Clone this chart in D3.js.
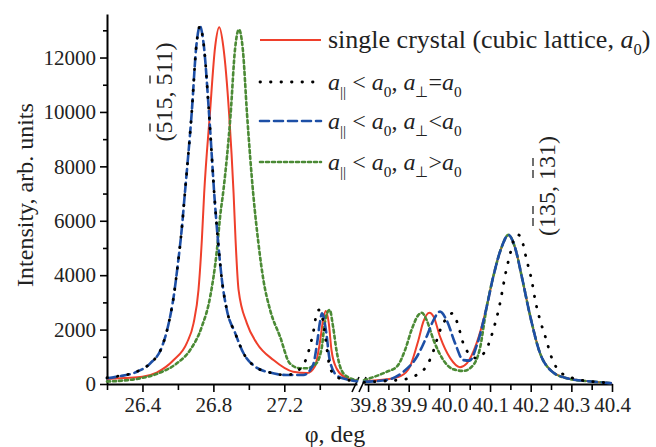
<!DOCTYPE html>
<html>
<head>
<meta charset="utf-8">
<script src="https://cdn.jsdelivr.net/npm/d3@7"></script>
<style>
  body { margin: 0; background: #fff; }
  svg { display: block; font-family: "Liberation Serif", "Times New Roman", serif; }
</style>
</head>
<body>
<div id="chart"></div>
<script>
// phi axis is broken in two pieces
const leftDomain = [26.2, 27.61];
const rightDomain = [39.79, 40.4];
const yMax = 13600;

const yTicks = [0, 2000, 4000, 6000, 8000, 10000, 12000];
const yMinor = [1000, 3000, 5000, 7000, 9000, 11000, 13000];
const xTicksLeft = [26.4, 26.8, 27.2];
const xMinorLeft = [26.2, 26.6, 27.0, 27.4];
const xTicksRight = [39.8, 39.9, 40.0, 40.1, 40.2, 40.3, 40.4];
const xMinorRight = [39.85, 39.95, 40.05, 40.15, 40.25, 40.35];

// [phi, intensity]
const redLeft = [[26.2, 180], [26.3, 220], [26.4, 270], [26.48, 420], [26.576, 880], [26.65, 1500],
  [26.688, 2230], [26.716, 3460], [26.735, 5300], [26.748, 7000], [26.78, 9900], [26.81, 12400],
  [26.833, 13110], [26.856, 12400], [26.889, 9900], [26.914, 7000], [26.925, 5300], [26.942, 3460],
  [26.989, 2230], [27.045, 1500], [27.139, 880], [27.25, 450], [27.33, 400], [27.372, 640],
  [27.4, 1500], [27.419, 2350], [27.434, 2680], [27.451, 2230], [27.466, 1250], [27.494, 580],
  [27.541, 250], [27.588, 150], [27.61, 120]];
const redRight = [[39.79, 110], [39.846, 175], [39.881, 300], [39.903, 640], [39.924, 1620],
  [39.936, 2290], [39.951, 2620], [39.961, 2480], [39.977, 1740], [40.002, 950], [40.026, 620],
  [40.043, 760], [40.067, 1500], [40.092, 2850], [40.108, 3950], [40.129, 5050], [40.145, 5480],
  [40.162, 4990], [40.178, 3950], [40.199, 2480], [40.223, 1130], [40.248, 520], [40.289, 210],
  [40.354, 85], [40.4, 30]];

const blackLeft = [[26.2, 230], [26.256, 280], [26.369, 460], [26.444, 760], [26.51, 1370],
  [26.548, 2230], [26.576, 3210], [26.598, 4320], [26.623, 5790], [26.636, 6770], [26.677, 9900],
  [26.705, 12500], [26.724, 13150], [26.745, 12500], [26.776, 9900], [26.808, 6710], [26.829, 5050],
  [26.848, 3830], [26.876, 2720], [26.923, 1870], [26.97, 1130], [27.035, 640], [27.12, 420],
  [27.212, 330], [27.26, 420], [27.3, 650], [27.325, 950], [27.344, 1370], [27.366, 1990],
  [27.381, 2560], [27.395, 2720], [27.41, 2560], [27.425, 2050], [27.44, 1300], [27.452, 760],
  [27.475, 380], [27.511, 210], [27.56, 140], [27.61, 100]];
const blackRight = [[39.79, 60], [39.85, 120], [39.891, 175], [39.916, 300], [39.94, 580],
  [39.954, 950], [39.981, 2110], [40.008, 2600], [40.02, 2230], [40.034, 1500], [40.051, 1070],
  [40.067, 950], [40.092, 1310], [40.108, 1990], [40.121, 2720], [40.141, 4260], [40.149, 4750],
  [40.162, 5420], [40.17, 5480], [40.178, 5300], [40.19, 4560], [40.203, 3770], [40.211, 3090],
  [40.223, 2350], [40.236, 1740], [40.252, 950], [40.272, 450], [40.305, 210], [40.354, 85],
  [40.4, 40]];

const blueLeft = [[26.2, 210], [26.256, 270], [26.369, 450], [26.444, 760], [26.51, 1370],
  [26.548, 2230], [26.576, 3210], [26.598, 4320], [26.623, 5790], [26.636, 6770], [26.677, 9900],
  [26.705, 12500], [26.724, 13150], [26.745, 12500], [26.776, 9900], [26.808, 6710], [26.829, 5050],
  [26.848, 3830], [26.876, 2720], [26.923, 1870], [26.97, 1130], [27.035, 640], [27.12, 420],
  [27.214, 330], [27.308, 330], [27.362, 700], [27.385, 1500], [27.4, 2230], [27.413, 2600],
  [27.437, 1870], [27.456, 880], [27.494, 330], [27.55, 175], [27.588, 120], [27.61, 100]];
const blueRight = [[39.79, 80], [39.846, 150], [39.887, 450], [39.92, 1000], [39.944, 1740],
  [39.961, 2350], [39.977, 2660], [39.993, 2350], [40.014, 1500], [40.034, 880], [40.05, 860],
  [40.067, 1400], [40.092, 2850], [40.108, 3950], [40.129, 5050], [40.145, 5480], [40.162, 4990],
  [40.178, 3950], [40.199, 2480], [40.223, 1130], [40.248, 520], [40.289, 210], [40.354, 85],
  [40.4, 30]];

const greenLeft = [[26.2, 90], [26.388, 210], [26.5, 420], [26.594, 760], [26.669, 1250],
  [26.735, 2110], [26.782, 3210], [26.82, 4930], [26.838, 6160], [26.857, 7140], [26.897, 9900],
  [26.922, 12300], [26.944, 13030], [26.966, 12300], [26.99, 9900], [27.026, 6900], [27.054, 5180],
  [27.082, 3830], [27.12, 2720], [27.176, 1740], [27.231, 760], [27.287, 580], [27.325, 580],
  [27.372, 700], [27.409, 1250], [27.428, 2230], [27.441, 2600], [27.456, 2720], [27.475, 2110],
  [27.494, 1250], [27.522, 515], [27.56, 246], [27.588, 173], [27.61, 140]];
const greenRight = [[39.79, 140], [39.846, 450], [39.871, 640], [39.891, 1250], [39.907, 1990],
  [39.924, 2540], [39.932, 2620], [39.944, 2350], [39.961, 1620], [39.985, 880], [40.01, 540],
  [40.034, 480], [40.059, 700], [40.075, 1300], [40.092, 2850], [40.108, 3950], [40.129, 5050],
  [40.145, 5480], [40.162, 4990], [40.178, 3950], [40.199, 2480], [40.223, 1130], [40.248, 520],
  [40.289, 210], [40.354, 85], [40.4, 30]];

// legend labels: t = text, i = italic, s = subscript
const legendRed = [{t: "single crystal (cubic lattice, "}, {t: "a", i: 1}, {t: "0", s: 1}, {t: ")"}];
const legendBlack = [{t: "a", i: 1}, {t: "||", s: 1}, {t: " < "}, {t: "a", i: 1}, {t: "0", s: 1}, {t: ", "},
  {t: "a", i: 1}, {t: "\u22a5", s: 1}, {t: "="}, {t: "a", i: 1}, {t: "0", s: 1}];
const legendBlue = [{t: "a", i: 1}, {t: "||", s: 1}, {t: " < "}, {t: "a", i: 1}, {t: "0", s: 1}, {t: ", "},
  {t: "a", i: 1}, {t: "\u22a5", s: 1}, {t: "<"}, {t: "a", i: 1}, {t: "0", s: 1}];
const legendGreen = [{t: "a", i: 1}, {t: "||", s: 1}, {t: " < "}, {t: "a", i: 1}, {t: "0", s: 1}, {t: ", "},
  {t: "a", i: 1}, {t: "\u22a5", s: 1}, {t: ">"}, {t: "a", i: 1}, {t: "0", s: 1}];

const peakLabels = [
  {text: "(515, 511)", bars: [1, 6], x: 172, y: 92},
  {text: "(135, 131)", bars: [1, 2, 6, 7], x: 555, y: 186}
];

const series = [
  {left: redLeft, right: redRight, legend: legendRed, color: "#ef3f2b", width: 2, dash: null, fs: 26},
  {left: greenLeft, right: greenRight, legend: legendGreen, color: "#4b8a35", width: 2.6, dash: "3,3", fs: 24},
  {left: blueLeft, right: blueRight, legend: legendBlue, color: "#1d4fa6", width: 2.6, dash: "9,5", fs: 24},
  {left: blackLeft, right: blackRight, legend: legendBlack, color: "#000", width: 2.8, dash: "0.5,10", fs: 24}
];
const legendOrder = [0, 3, 2, 1];

const W = 656, H = 447;
const svg = d3.select("#chart").append("svg").attr("width", W).attr("height", H);

const y = d3.scaleLinear().domain([0, yMax]).range([384, 14]);
const xL = d3.scaleLinear().domain(leftDomain).range([107, 357]);
const xR = d3.scaleLinear().domain(rightDomain).range([364, 612]);

function styleAxis(g, size) {
  g.attr("font-family", null).attr("font-size", size);
  g.selectAll("text").attr("fill", "#222");
  g.selectAll(".domain").attr("stroke-width", 2);
  g.selectAll(".tick line").attr("stroke-width", 1.6);
}

// y axis
svg.append("g").attr("transform", "translate(107,0)")
  .call(d3.axisLeft(y).tickValues(yTicks).tickSize(7).tickSizeOuter(0).tickPadding(4).tickFormat(d3.format("d")))
  .call(g => styleAxis(g, 21));
svg.append("g").attr("transform", "translate(107,0)")
  .call(d3.axisLeft(y).tickValues(yMinor).tickSize(4).tickFormat(""))
  .call(g => { g.select(".domain").remove(); styleAxis(g, 21); });

// x axes, two segments
[[xL, xTicksLeft, xMinorLeft], [xR, xTicksRight, xMinorRight]].forEach(([sc, major, minor]) => {
  svg.append("g").attr("transform", "translate(0,384)")
    .call(d3.axisBottom(sc).tickValues(major).tickSize(8).tickSizeOuter(0).tickPadding(5).tickFormat(d3.format(".1f")))
    .call(g => styleAxis(g, 21));
  svg.append("g").attr("transform", "translate(0,384)")
    .call(d3.axisBottom(sc).tickValues(minor).tickSize(6).tickFormat(""))
    .call(g => { g.select(".domain").remove(); styleAxis(g, 21); });
});

// break marks
svg.append("g").selectAll("line").data([352, 359]).join("line")
  .attr("x1", d => d).attr("y1", 392).attr("x2", d => d + 7).attr("y2", 377)
  .attr("stroke", "#000").attr("stroke-width", 1.6);

// curves
const plot = svg.append("g").attr("fill", "none");
series.forEach(s => {
  [[s.left, xL], [s.right, xR]].forEach(([pts, sc]) => {
    const line = d3.line().x(d => sc(d[0])).y(d => y(d[1])).curve(d3.curveMonotoneX);
    plot.append("path").attr("d", line(pts))
      .attr("stroke", s.color).attr("stroke-width", s.width)
      .attr("stroke-dasharray", s.dash).attr("stroke-linecap", s.dash ? "round" : "butt");
  });
});

function richText(text, parts, base) {
  let shift = 0;
  parts.forEach(p => {
    const ts = text.append("tspan").text(p.t);
    if (p.i) ts.attr("font-style", "italic");
    const want = p.s ? 7 : 0;
    if (want !== shift) { ts.attr("dy", want - shift); shift = want; }
    if (p.s) ts.attr("font-size", base * 0.64);
  });
}

// legend
const legY = [40, 82, 121, 162];
legendOrder.forEach((si, k) => {
  const s = series[si];
  svg.append("line").attr("x1", 260).attr("x2", 321).attr("y1", legY[k]).attr("y2", legY[k])
    .attr("stroke", s.color).attr("stroke-width", s.width)
    .attr("stroke-dasharray", s.dash).attr("stroke-linecap", s.dash ? "round" : "butt");
  const t = svg.append("text").attr("x", 328).attr("y", legY[k] + 8).attr("font-size", s.fs).attr("fill", "#222");
  richText(t, s.legend, s.fs);
});

// rotated reflection labels with overbars
peakLabels.forEach(l => {
  const g = svg.append("g").attr("transform", `translate(${l.x},${l.y}) rotate(-90)`);
  const t = g.append("text").attr("text-anchor", "middle").attr("font-size", 24).attr("fill", "#222").text(l.text);
  l.bars.forEach(i => {
    const e = t.node().getExtentOfChar(i);
    g.append("line").attr("x1", e.x + 2).attr("x2", e.x + e.width - 2)
      .attr("y1", -22).attr("y2", -22).attr("stroke", "#222").attr("stroke-width", 1.3);
  });
});

// axis titles
svg.append("text").attr("transform", "translate(33,195) rotate(-90)").attr("text-anchor", "middle")
  .attr("font-size", 24).attr("fill", "#222").text("Intensity, arb. units");
svg.append("text").attr("x", 335).attr("y", 442).attr("text-anchor", "middle")
  .attr("font-size", 24).attr("fill", "#222").text("\u03c6, deg");
</script>
</body>
</html>
